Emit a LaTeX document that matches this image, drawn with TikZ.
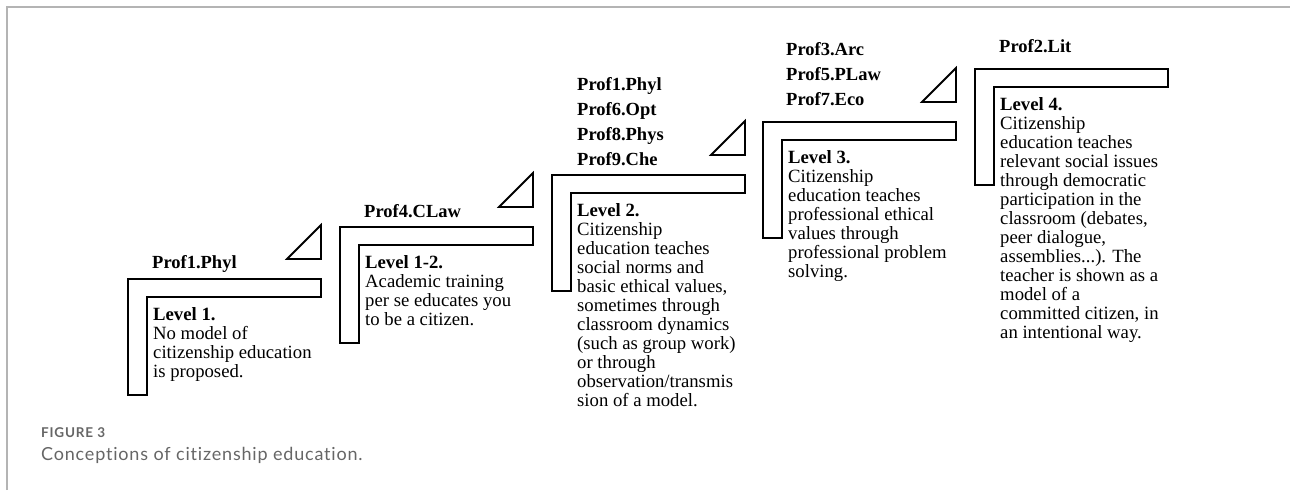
\documentclass[tikz,border=0pt]{standalone}
\usepackage{fontspec}
\setmainfont{Liberation Serif}
\newfontfamily\capfont[LetterSpace=4.5,RawFeature={-liga}]{Lato}
\newfontfamily\figfont[LetterSpace=6,RawFeature={-liga}]{Lato}
\definecolor{framegray}{HTML}{B4B4B4}
\definecolor{captiongray}{HTML}{666666}
\tikzset{
  stairline/.style={draw=black, line width=1.8pt, line join=miter},
  bodytext/.style={anchor=north west, inner sep=0pt, align=left,
    font=\fontsize{18.7}{19}\selectfont},
  proflabel/.style={anchor=base west, inner sep=0pt,
    font=\fontsize{18.5}{19}\selectfont\bfseries},
  pics/stairL/.style={code={
    \draw[stairline] (0,0) -- (193,0) -- (193,18) -- (19,18) -- (19,116) -- (0,116) -- cycle;}},
  pics/stairtri/.style={code={
    \draw[stairline] (159,-20) -- (193,-20) -- (193,-54) -- cycle;}},
}
\begin{document}
\begin{tikzpicture}[x=1pt,y=-1pt]
\useasboundingbox (0,0) rectangle (1290,490);
% panel frame
\draw[framegray, line width=2pt] (7,490) -- (7,7) -- (1290,7);

% steps: outer corner of each L
\pic at (128,279) {stairL};  \pic at (128,279) {stairtri};
\pic at (340,227) {stairL};  \pic at (340,227) {stairtri};
\pic at (552,175) {stairL};  \pic at (552,175) {stairtri};
\pic at (763,122) {stairL};  \pic at (763,122) {stairtri};
\pic at (975,69)  {stairL};

% level 1
\node[proflabel] (p1a) at (152,268) {Prof1.Phyl};
\node[bodytext] (l1) at (153,307) {\textbf{Level 1.}\\No model of\\citizenship education\\is proposed.};

% level 1-2
\node[proflabel] (p12a) at (364,217) {Prof4.CLaw};
\node[bodytext] (l12) at (365,255) {\textbf{Level 1-2.}\\Academic training\\per se educates you\\to be a citizen.};

% level 2
\node[proflabel] (p2a) at (577,90)  {Prof1.Phyl};
\node[proflabel] (p2b) at (577,115) {Prof6.Opt};
\node[proflabel] (p2c) at (577,140) {Prof8.Phys};
\node[proflabel] (p2d) at (577,165) {Prof9.Che};
\node[bodytext] (l2) at (577,203) {\textbf{Level 2.}\\Citizenship\\education teaches\\social norms and\\basic ethical values,\\sometimes through\\classroom dynamics\\(such as group work)\\or through\\observation/transmis\\sion of a model.};

% level 3
\node[proflabel] (p3a) at (786,55)  {Prof3.Arc};
\node[proflabel] (p3b) at (786,80)  {Prof5.PLaw};
\node[proflabel] (p3c) at (786,105) {Prof7.Eco};
\node[bodytext] (l3) at (788,150) {\textbf{Level 3.}\\Citizenship\\education teaches\\professional ethical\\values through\\professional problem\\solving.};

% level 4
\node[proflabel] (p4a) at (999,52) {Prof2.Lit};
\node[bodytext] (l4) at (1000,97) {\textbf{Level 4.}\\Citizenship\\education teaches\\relevant social issues\\through democratic\\participation in the\\classroom (debates,\\peer dialogue,\\assemblies...). The\\teacher is shown as a\\model of a\\committed citizen, in\\an intentional way.};

% caption
\node[anchor=base west, inner sep=0pt, text=captiongray,
      font=\figfont\bfseries\fontsize{13.5}{15}\selectfont] (fig) at (41,437) {FIGURE 3};
\node[anchor=base west, inner sep=0pt, text=captiongray,
      font=\capfont\fontsize{18}{20}\selectfont] (cap) at (41,460) {Conceptions of citizenship education.};
\end{tikzpicture}
\end{document}
